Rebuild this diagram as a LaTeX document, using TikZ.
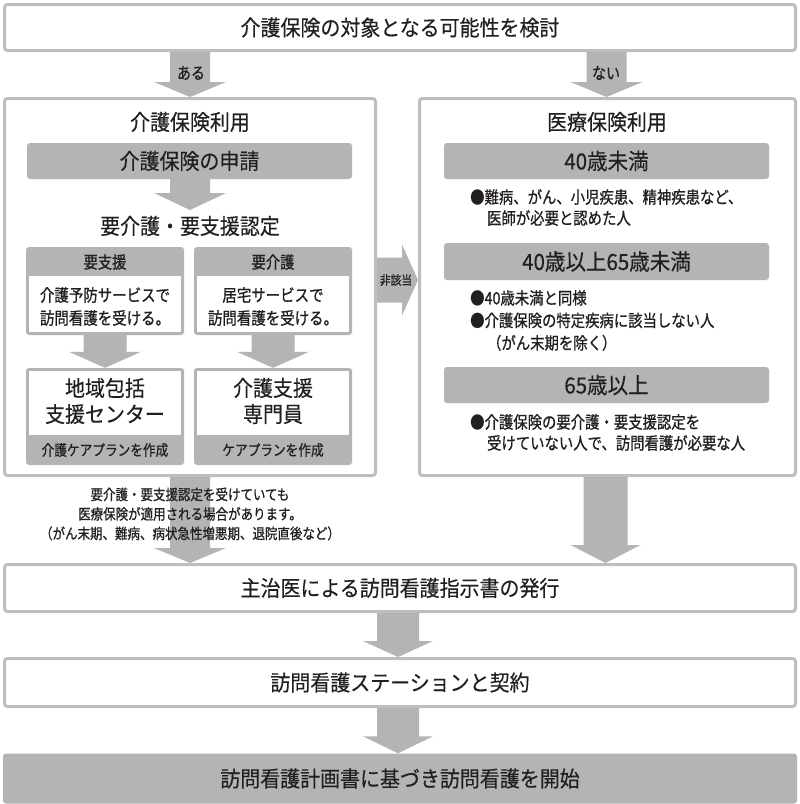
\documentclass[tikz,border=0pt]{standalone}
\usepackage{fontspec}
\setmainfont{Noto Sans CJK JP}
\newfontfamily\jpc[FakeStretch=0.85, FakeBold=0.8]{Noto Sans CJK JP}
\newfontfamily\jpb[FakeStretch=0.92, FakeBold=0.3]{Noto Sans CJK JP}
\usetikzlibrary{calc}
\definecolor{agray}{RGB}{180,180,180}
\definecolor{bgray}{RGB}{190,190,190}
\definecolor{tcol}{RGB}{35,31,32}
\newcommand\jfs[2]{\fontsize{#1}{#2}\selectfont}
% block arrow pointing down: #1 start, #2 tip, #3 body half, #4 head half, #5 head length
\newcommand\gdown[5]{\fill[agray] let \p1=#1, \p2=#2 in
  (\x2-#3,\y1) -- (\x2+#3,\y1) -- (\x2+#3,\y2+#5) -- (\x2+#4,\y2+#5) -- (\x2,\y2)
  -- (\x2-#4,\y2+#5) -- (\x2-#3,\y2+#5) -- cycle;}
% block arrow pointing right
\newcommand\gright[5]{\fill[agray] let \p1=#1, \p2=#2 in
  (\x1,\y1+#3) -- (\x2-#5,\y1+#3) -- (\x2-#5,\y1+#4) -- (\x2,\y1)
  -- (\x2-#5,\y1-#4) -- (\x2-#5,\y1-#3) -- (\x1,\y1-#3) -- cycle;}
\begin{document}
\begin{tikzpicture}[x=1pt,y=-1pt,
  wbox/.style={draw=bgray, line width=3pt, fill=white, rounded corners=3pt, inner sep=0pt, text=tcol},
  gbar/.style={fill=agray, rounded corners=3pt, inner sep=0pt, text=tcol},
  wfill/.style={fill=white, inner sep=0pt},
  txt/.style={text=tcol, inner sep=0pt, align=center},
  ltxt/.style={text=tcol, inner sep=0pt, align=left, anchor=west},
  big/.style={font=\jpb\jfs{21.7}{26}},
  bigr/.style={font=\jpb\jfs{22.3}{26}},
  mid/.style={font=\jpc\jfs{17}{23}},
  sml/.style={font=\jpc\jfs{14.9}{19}},
]
\useasboundingbox (0,0) rectangle (800,804);
\fill[white] (0,0) rectangle (800,804);

% main boxes
\node[wbox, big, minimum width=791pt, minimum height=46pt] (top) at (400,27.5) {介護保険の対象となる可能性を検討};
\node[wbox, minimum width=371pt, minimum height=377pt] (L) at (190,287) {};
\node[wbox, minimum width=376pt, minimum height=377pt] (R) at (607.5,287) {};
\node[wbox, big, minimum width=791pt, minimum height=47pt] (B1) at (400,588) {主治医による訪問看護指示書の発行};
\node[wbox, big, minimum width=791pt, minimum height=48pt] (B2) at (400,682.5) {訪問看護ステーションと契約};
\node[gbar, big, minimum width=794pt, minimum height=50pt] (B3) at (400,778.5) {訪問看護計画書に基づき訪問看護を開始};

% left box contents
\node[txt, big] (Ltitle) at (190,122) {介護保険利用};
\node[gbar, big, minimum width=325pt, minimum height=36pt] (apply) at (189.5,161) {介護保険の申請};
\coordinate (tipA) at (190,210);
\node[txt, big] (nintei) at (190,226) {要介護・要支援認定};

% sub boxes (left: 要支援, right: 要介護)
\node[gbar, minimum width=158pt, minimum height=88pt] (s1) at (105,291) {};
\node[wfill, minimum width=152pt, minimum height=56pt] (s1w) at (105,304) {};
\node[txt, font=\jpc\jfs{16.8}{18}] (s1h) at (105,262) {要支援};
\node[txt, mid] (s1t) at (105,306.5) {介護予防サービスで\\訪問看護を受ける。};

\node[gbar, minimum width=158pt, minimum height=97pt] (s1b) at (105,416.5) {};
\node[wfill, minimum width=152pt, minimum height=64pt] (s1bw) at (105,403) {};
\node[txt, big] (s1bt) at (105,401) {地域包括\\支援センター};
\node[txt, sml] (s1bf) at (105,450) {介護ケアプランを作成};

\node[gbar, minimum width=158pt, minimum height=88pt] (s2) at (273,291) {};
\node[wfill, minimum width=152pt, minimum height=56pt] (s2w) at (273,304) {};
\node[txt, font=\jpc\jfs{16.8}{18}] (s2h) at (273,262) {要介護};
\node[txt, mid] (s2t) at (273,306.5) {居宅サービスで\\訪問看護を受ける。};

\node[gbar, minimum width=158pt, minimum height=97pt] (s2b) at (273,416.5) {};
\node[wfill, minimum width=152pt, minimum height=64pt] (s2bw) at (273,403) {};
\node[txt, big] (s2bt) at (273,401) {介護支援\\専門員};
\node[txt, sml] (s2bf) at (273,450) {ケアプランを作成};

% right box contents
\node[txt, big] (Rtitle) at (607,122) {医療保険利用};
\node[gbar, bigr, minimum width=325pt, minimum height=36pt] (r1) at (606.5,161) {40歳未満};
\node[ltxt, font=\jpc\jfs{16.9}{21}] (r1t) at (470,207.5) {●難病、がん、小児疾患、精神疾患など、\\\hspace*{1em}医師が必要と認めた人};
\node[gbar, bigr, minimum width=325pt, minimum height=37pt] (r2) at (606.5,261.5) {40歳以上65歳未満};
\node[ltxt, font=\jpc\jfs{16.9}{22.5}] (r2t) at (470,320.5) {●40歳未満と同様\\●介護保険の特定疾病に該当しない人\\\hspace*{1em}（がん末期を除く）};
\node[gbar, bigr, minimum width=325pt, minimum height=36pt] (r3) at (606.5,385) {65歳以上};
\node[ltxt, font=\jpc\jfs{16.9}{21}] (r3t) at (470,432.5) {●介護保険の要介護・要支援認定を\\\hspace*{1em}受けていない人で、訪問看護が必要な人};

% block arrows
\gdown{(L.north |- top.south)}{(L.north)}{20pt}{36pt}{15pt}
\gdown{([xshift=-1pt]R.north |- top.south)}{([xshift=-1pt]R.north)}{20pt}{36pt}{15pt}
\gdown{(apply.south)}{(tipA)}{20pt}{36pt}{17pt}
\gdown{(s1w.south)}{(s1b.north)}{21.5pt}{36pt}{16pt}
\gdown{(s2w.south)}{(s2b.north)}{21.5pt}{36pt}{16pt}
\coordinate (nhA) at ([yshift=7pt]L.east);
\gright{(nhA)}{(R.west |- nhA)}{22.5pt}{35.5pt}{16pt}
\gdown{(L.south)}{(L.south |- B1.north)}{20pt}{36pt}{15pt}
\gdown{([xshift=-2pt]R.south)}{([xshift=-2pt]R.south |- B1.north)}{22pt}{35pt}{18pt}
\gdown{([xshift=-2pt]B1.south)}{([xshift=-2pt]B2.north)}{21pt}{35pt}{16pt}
\gdown{([xshift=-2pt]B2.south)}{([xshift=-2pt]B3.north)}{21pt}{35pt}{17pt}

% arrow labels
\node[txt, font=\jpc\jfs{16.5}{18}] (aru) at (191,73) {ある};
\node[txt, font=\jpc\jfs{16.5}{18}] (nai) at (606,73) {ない};
\node[txt, font=\jpc\jfs{12.6}{14}] (hig) at (396,280) {非該当};
\node[txt, font=\jpc\jfs{14.7}{19.5}] (note) at (190,514) {要介護・要支援認定を受けていても\\医療保険が適用される場合があります。\\（がん末期、難病、病状急性増悪期、退院直後など）};
\end{tikzpicture}
\end{document}
